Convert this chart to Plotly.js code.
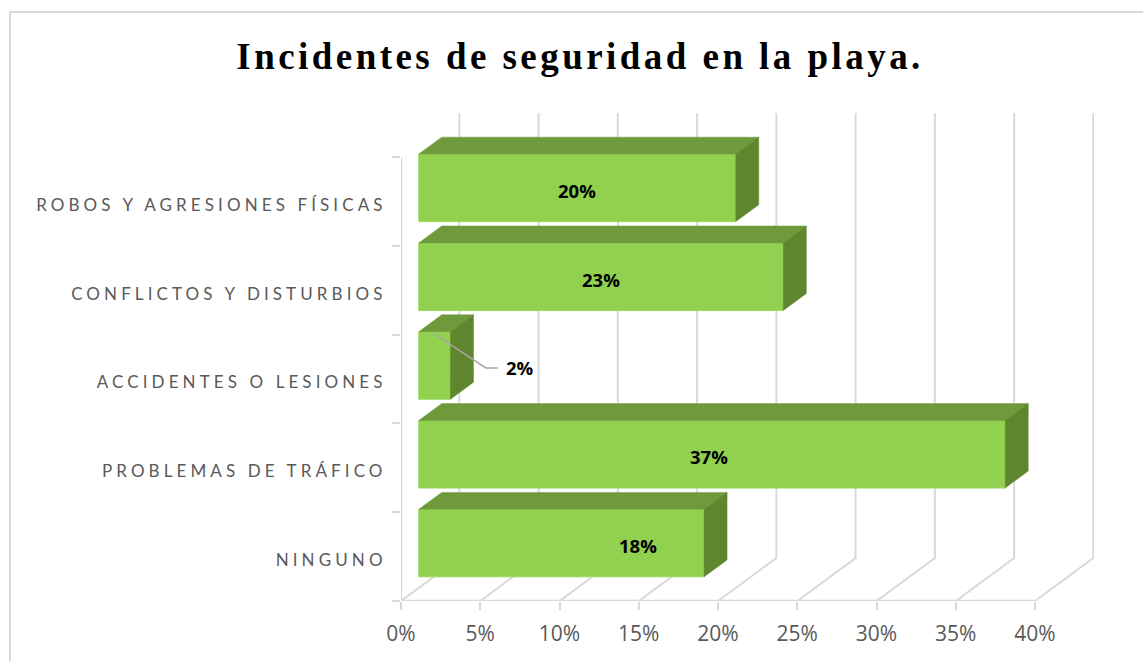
<!DOCTYPE html>
<html>
<head>
<meta charset="utf-8">
<script src="https://cdn.plot.ly/plotly-3.0.1.min.js"></script>
<style>
html,body{margin:0;padding:0;background:#fff;overflow:hidden}
#chart{width:1143px;height:661px}
.ytick text{letter-spacing:4.1px}
.gtitle{letter-spacing:3.45px}
</style>
</head>
<body>
<div id="chart"></div>
<script>
// ---- data ----
const chartTitle = 'Incidentes de seguridad en la playa.';
const categories = ['NINGUNO','PROBLEMAS DE TRÁFICO','ACCIDENTES O LESIONES','CONFLICTOS Y DISTURBIOS','ROBOS Y AGRESIONES FÍSICAS'];
const values = [18,37,2,23,20];
const xTicks = [0,5,10,15,20,25,30,35,40];
const labelX = [14.95,19.43,7.5,12.6,11.1];

// ---- styling constants (axis units) ----
const FRONT = '#92D050', TOP = '#6F9A3C', SIDE = '#5F852F', GRID = '#D9D9D9';
const inset = 1.12, barShift = 0.152, barHalf = 0.38;
const barDX = 1.45, barDY = 0.191;
const wallDX = 3.68, wallDY = 0.484;
const yMin = -0.5, yAxisTop = 4.5, yMax = 4.995, xMax = 43.72;
const centers = categories.map((_, i) => i);
const yBoundaries = [-0.5,0.5,1.5,2.5,3.5,4.5];
const labelNudge = 0.04;

function face(xs, ys, color){
  return {type:'scatter', mode:'lines', x:xs, y:ys, fill:'toself', fillcolor:color,
          line:{color:color, width:0.5}, hoverinfo:'skip', showlegend:false};
}

const traces = [{
  type:'bar', orientation:'h', y:centers.map(c => c + barShift), x:values,
  base:values.map(() => inset), width:barHalf*2,
  marker:{color:FRONT, line:{color:'#9BD85C', width:1}},
  hoverinfo:'skip', showlegend:false
}];
values.forEach((v, i) => {
  const lo = i + barShift - barHalf, hi = i + barShift + barHalf;
  const x0 = inset, x1 = inset + v;
  traces.push(face([x0, x1, x1+barDX, x0+barDX, x0],[hi, hi, hi+barDY, hi+barDY, hi], TOP));
  traces.push(face([x1, x1+barDX, x1+barDX, x1, x1],[hi, hi+barDY, lo+barDY, lo, hi], SIDE));
});
// callout leader of the small bar
traces.push({type:'scatter', mode:'lines', x:[2.0,5.35,6.1], y:[2.518,2.124,2.124],
  line:{color:'#A6A6A6', width:1.5}, hoverinfo:'skip', showlegend:false});

const lineStyle = {color:GRID, width:2.5};
const shapes = [];
xTicks.forEach(t => {
  shapes.push({type:'path', layer:'below', xref:'x', yref:'y',
    path:`M ${t} ${yMin} L ${t+wallDX} ${yMin+wallDY} L ${t+wallDX} ${yMax}`,
    line:{color:GRID, width:2}});
});
shapes.push({type:'line', layer:'below', xref:'x', yref:'y', x0:0, x1:40, y0:yMin, y1:yMin, line:lineStyle});
shapes.push({type:'line', layer:'below', xref:'x', yref:'y', x0:0, x1:0, y0:yMin, y1:yAxisTop, line:lineStyle});
// outer chart frame
shapes.push({type:'path', layer:'below', xref:'paper', yref:'paper',
  path:`M ${(10-401)/693} ${-60/488} L ${(10-401)/693} ${(601-12)/488} L ${(1143-401)/693} ${(601-12)/488}`,
  line:{color:'#D9D9D9', width:2}});

const annotations = values.map((v, i) => ({
  x:labelX[i], y:i+0.125, xref:'x', yref:'y', text:v+'%', showarrow:false,
  xanchor:'center', yanchor:'middle',
  font:{family:'"Open Sans", sans-serif', size:18.5, color:'#000', weight:700}
}));

const layout = {
  width:1143, height:661, autosize:false,
  margin:{l:401, r:49, t:113, b:60, pad:0},
  paper_bgcolor:'#fff', plot_bgcolor:'rgba(0,0,0,0)',
  showlegend:false, hovermode:false, bargap:0,
  title:{text:'<b>'+chartTitle+'</b>', x:0.5075, xref:'container', xanchor:'center',
         y:0.915, yref:'container', yanchor:'middle',
         font:{family:'"Liberation Serif", serif', size:37, color:'#000'}},
  xaxis:{range:[0,xMax], tickmode:'array', tickvals:xTicks, ticktext:xTicks.map(t => t+'%'),
         showgrid:false, zeroline:false, showline:false,
         ticks:'outside', ticklen:8, tickwidth:2, tickcolor:GRID, ticklabelstandoff:6,
         tickfont:{family:'"Open Sans", sans-serif', size:21, color:'#595959'}},
  yaxis:{range:[yMin,yMax], tickmode:'array', tickvals:centers.map(c => c - labelNudge), ticktext:categories,
         showgrid:false, zeroline:false, showline:false,
         ticks:'outside', ticklen:10, tickwidth:0, tickcolor:'rgba(0,0,0,0)',
         minor:{tickmode:'array', tickvals:yBoundaries, ticks:'outside', ticklen:8, tickwidth:2, tickcolor:GRID, showgrid:false},
         tickfont:{family:'Lato, "Open Sans", sans-serif', size:17, color:'#595959'}},
  shapes, annotations
};
Plotly.newPlot('chart', traces, layout, {displayModeBar:false, staticPlot:true});
</script>
</body>
</html>
